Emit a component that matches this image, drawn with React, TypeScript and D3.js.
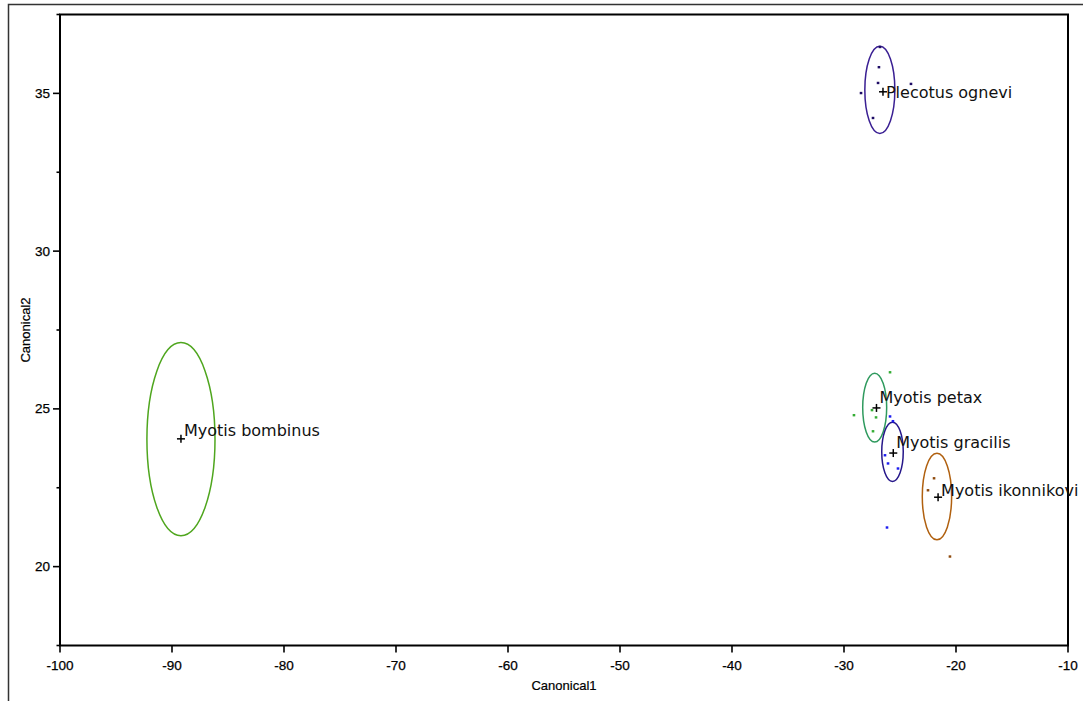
import React from "react";
import * as d3 from "d3";

// ---- data ----
const groups = ["Myotis bombinus", "Plecotus ognevi", "Myotis petax", "Myotis gracilis", "Myotis ikonnikovi"];
const centroidX = [-89.2, -26.52, -27.1, -25.6, -21.6];
const centroidY = [24.05, 35.05, 25.03, 23.6, 22.2];
const ellipseCX = [-89.2, -26.8, -27.26, -25.67, -21.7];
const ellipseCY = [24.04, 35.11, 25.04, 23.64, 22.22];
const radiusX = [3.04, 1.34, 1.07, 0.96, 1.31];
const radiusY = [3.06, 1.38, 1.09, 0.94, 1.37];

const pointsX: number[][] = [
  [],
  [-26.79, -26.88, -26.96, -28.48, -24.02, -27.41],
  [-25.89, -29.11, -27.5, -27.14, -27.41],
  [-25.89, -25.63, -26.34, -26.07, -25.18, -26.16],
  [-21.96, -22.5, -20.54],
];
const pointsY: number[][] = [
  [],
  [36.47, 35.83, 35.33, 35.01, 35.3, 34.22],
  [26.16, 24.8, 24.96, 24.73, 24.29],
  [24.76, 24.61, 23.53, 23.27, 23.11, 21.24],
  [22.8, 22.42, 20.32],
];

const xTicks = [-100, -90, -80, -70, -60, -50, -40, -30, -20, -10];
const yTicks = [20, 25, 30, 35];
const yMinorTicks = [17.5, 22.5, 27.5, 32.5, 37.5];
const xTitle = "Canonical1";
const yTitle = "Canonical2";

// ---- styles ----
const ellipseColors = ["#4fa61e", "#3a1f93", "#2f9a5e", "#26178a", "#b0600f"];
const pointColors = ["#4fa61e", "#1e0c66", "#35ad35", "#1c1cf0", "#8f4b0e"];
const labelDy = [-3, 6, -4.5, -5, -1];

const W = 1083;
const H = 701;
const left = 60, right = 1068, top = 14.5, bottom = 645.5;

export default function App() {
  const x = d3.scaleLinear().domain([-100, -10]).range([left, right]);
  const y = d3.scaleLinear().domain([17.5, 37.5]).range([bottom, top]);
  const axisFont = "'Liberation Sans', Arial, sans-serif";
  const labelFont = "'DejaVu Sans', Verdana, sans-serif";

  return (
    <svg width={W} height={H} style={{ position: "absolute", left: 0, top: 0, background: "#fff" }}>
      {/* outer frame */}
      <rect x={8.5} y={4.5} width={W + 20} height={H + 20} fill="none" stroke="#333" strokeWidth={1.5} />
      {/* plot frame */}
      <rect x={left} y={top} width={right - left} height={bottom - top} fill="none" stroke="#000" strokeWidth={2} />

      {/* x ticks */}
      {xTicks.map((t) => (
        <g key={"xt" + t}>
          <line x1={x(t)} x2={x(t)} y1={bottom} y2={bottom + 7} stroke="#000" strokeWidth={1.6} />
          <text x={x(t)} y={bottom + 24} textAnchor="middle" fontFamily={axisFont} fontSize={13.5} fill="#000" stroke="#000" strokeWidth={0.25}>
            {t}
          </text>
        </g>
      ))}
      {/* y ticks */}
      {yTicks.map((t) => (
        <g key={"yt" + t}>
          <line x1={left - 7} x2={left} y1={y(t)} y2={y(t)} stroke="#000" strokeWidth={1.6} />
          <text x={left - 10} y={y(t) + 4.5} textAnchor="end" fontFamily={axisFont} fontSize={13.5} fill="#000" stroke="#000" strokeWidth={0.25}>
            {t}
          </text>
        </g>
      ))}
      {yMinorTicks.map((t) => (
        <line key={"ym" + t} x1={left - 3.5} x2={left} y1={y(t)} y2={y(t)} stroke="#000" strokeWidth={1.6} />
      ))}

      {/* axis titles */}
      <text x={(left + right) / 2} y={690} textAnchor="middle" fontFamily={axisFont} fontSize={13} fill="#000" stroke="#000" strokeWidth={0.2}>
        {xTitle}
      </text>
      <text
        transform={`translate(30,${(top + bottom) / 2}) rotate(-90)`}
        textAnchor="middle"
        fontFamily={axisFont}
        fontSize={13}
        fill="#000"
        stroke="#000"
        strokeWidth={0.2}
      >
        {yTitle}
      </text>

      {/* groups */}
      {groups.map((g, i) => {
        const cx = x(ellipseCX[i]);
        const cy = y(ellipseCY[i]);
        const rx = x(ellipseCX[i] + radiusX[i]) - cx;
        const ry = cy - y(ellipseCY[i] + radiusY[i]);
        const px = x(centroidX[i]);
        const py = y(centroidY[i]);
        return (
          <g key={g}>
            <ellipse cx={cx} cy={cy} rx={rx} ry={ry} fill="none" stroke={ellipseColors[i]} strokeWidth={1.5} />
            {pointsX[i].map((v, j) => (
              <rect
                key={j}
                x={x(v) - 1.3}
                y={y(pointsY[i][j]) - 1.2}
                width={2.6}
                height={2.4}
                fill={pointColors[i]}
              />
            ))}
            <line x1={px - 4} x2={px + 4} y1={py} y2={py} stroke="#000" strokeWidth={1.5} />
            <line x1={px} x2={px} y1={py - 4} y2={py + 4} stroke="#000" strokeWidth={1.5} />
            <text x={px + 3} y={py + labelDy[i]} fontFamily={labelFont} fontSize={16} fill="#111">
              {g}
            </text>
          </g>
        );
      })}
    </svg>
  );
}
